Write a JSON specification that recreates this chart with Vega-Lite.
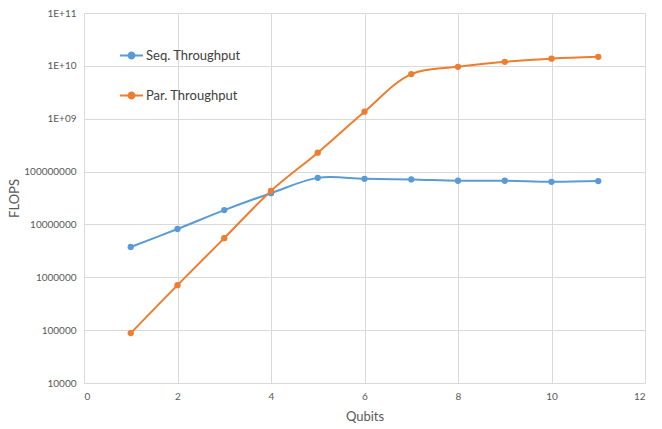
{
  "$schema": "https://vega.github.io/schema/vega-lite/v6.json",
  "autosize": "none",
  "width": 561,
  "height": 370,
  "padding": {"left": 84, "top": 13, "right": 17, "bottom": 46},
  "background": "white",
  "config": {
    "view": {"stroke": null},
    "font": "Lato"
  },
  "data": {
    "values": [
      {"q": 1, "series": "Seq. Throughput", "flops": 3740000},
      {"q": 2, "series": "Seq. Throughput", "flops": 8200000},
      {"q": 3, "series": "Seq. Throughput", "flops": 18700000},
      {"q": 4, "series": "Seq. Throughput", "flops": 39000000},
      {"q": 5, "series": "Seq. Throughput", "flops": 76000000},
      {"q": 6, "series": "Seq. Throughput", "flops": 73000000},
      {"q": 7, "series": "Seq. Throughput", "flops": 71000000},
      {"q": 8, "series": "Seq. Throughput", "flops": 67000000},
      {"q": 9, "series": "Seq. Throughput", "flops": 67000000},
      {"q": 10, "series": "Seq. Throughput", "flops": 64000000},
      {"q": 11, "series": "Seq. Throughput", "flops": 66000000},
      {"q": 1, "series": "Par. Throughput", "flops": 88000},
      {"q": 2, "series": "Par. Throughput", "flops": 710000},
      {"q": 3, "series": "Par. Throughput", "flops": 5500000},
      {"q": 4, "series": "Par. Throughput", "flops": 43000000},
      {"q": 5, "series": "Par. Throughput", "flops": 228000000},
      {"q": 6, "series": "Par. Throughput", "flops": 1360000000},
      {"q": 7, "series": "Par. Throughput", "flops": 7000000000},
      {"q": 8, "series": "Par. Throughput", "flops": 9600000000},
      {"q": 9, "series": "Par. Throughput", "flops": 11900000000},
      {"q": 10, "series": "Par. Throughput", "flops": 13700000000},
      {"q": 11, "series": "Par. Throughput", "flops": 14800000000}
    ]
  },
  "mark": {"type": "line", "interpolate": "catmull-rom", "strokeWidth": 2, "point": {"filled": true, "size": 40, "opacity": 1}},
  "encoding": {
    "x": {
      "field": "q", "type": "quantitative",
      "scale": {"domain": [0, 12], "nice": false},
      "axis": {
        "title": "Qubits", "values": [0, 2, 4, 6, 8, 10, 12],
        "grid": true, "gridColor": "#d9d9d9", "gridWidth": 1,
        "domainColor": "#d9d9d9", "ticks": false,
        "labelColor": "#595959", "labelFontSize": 10, "labelPadding": 8,
        "titleColor": "#595959", "titleFontSize": 13, "titleFontWeight": "normal", "titlePadding": 9
      }
    },
    "y": {
      "field": "flops", "type": "quantitative",
      "scale": {"type": "log", "domain": [10000, 100000000000], "nice": false},
      "axis": {
        "title": "FLOPS",
        "values": [10000, 100000, 1000000, 10000000, 100000000, 1000000000, 10000000000, 100000000000],
        "labelExpr": "datum.value >= 1e10 ? '1E+' + round(log(datum.value)/LN10) : datum.value >= 1e9 ? '1E+09' : format(datum.value, 'd')",
        "grid": true, "gridColor": "#d9d9d9", "gridWidth": 1,
        "domainColor": "#d9d9d9", "ticks": false,
        "labelColor": "#595959", "labelFontSize": 10, "labelPadding": 8,
        "titleColor": "#595959", "titleFontSize": 13, "titleFontWeight": "normal", "titlePadding": 2
      }
    },
    "color": {
      "field": "series", "type": "nominal",
      "scale": {"domain": ["Seq. Throughput", "Par. Throughput"], "range": ["#5B9BD5", "#ED7D31"]},
      "legend": {
        "title": null,
        "orient": "none",
        "legendX": 35,
        "legendY": 30,
        "symbolType": "M-1,0L1,0M-0.26,0A0.26,0.26 0 1,1 0.26,0A0.26,0.26 0 1,1 -0.26,0",
        "symbolSize": 529,
        "symbolStrokeWidth": 2,
        "labelFontSize": 13,
        "labelColor": "#404040",
        "labelOffset": 2,
        "rowPadding": 20,
        "encode": {"symbols": {"update": {"fill": {"scale": "color", "field": "value"}, "fillOpacity": {"value": 1}, "stroke": {"scale": "color", "field": "value"}}}}
      }
    }
  }
}
